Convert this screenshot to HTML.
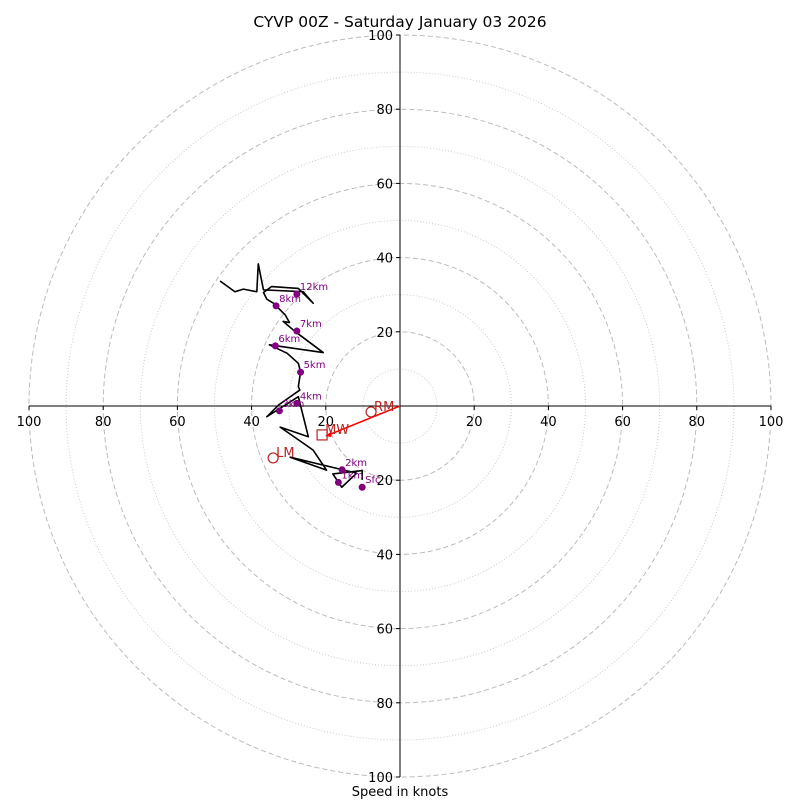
<!DOCTYPE html>
<html><head><meta charset="utf-8"><style>
body{margin:0;background:#fff}
svg text{font-family:"DejaVu Sans","Liberation Sans",sans-serif}
</style></head><body>
<svg id="c" width="800" height="800" viewBox="0 0 800 800">
<rect width="800" height="800" fill="#fff"/>
<text x="400" y="27" font-size="15.5" text-anchor="middle">CYVP 00Z - Saturday January 03 2026</text>
<text x="400" y="796" font-size="13" text-anchor="middle">Speed in knots</text>
<g id="grid"></g><g id="axes"></g><g id="plot"></g>
</svg>
<script>
const ringVals=[10,20,30,40,50,60,70,80,90,100];
const tickVals=[20,40,60,80,100];
const hodoU=[-10.2,-10.2,-18.1,-15.7,-11.7,-29.6,-19.8,-23.4,-32.3,-24.7,-27.4,-35.9,-32.7,-27.0,-27.4,-26.8,-27.4,-30.4,-35.2,-20.7,-28.3,-31.5,-29.8,-30.9,-34.1,-35.9,-36.8,-34.6,-27.4,-23.4,-26.1,-36.8,-38.2,-38.6,-42.2,-44.5,-48.5];
const hodoV=[-19.9,-17.4,-18.3,-21.9,-18.1,-13.8,-17.3,-11.9,-5.7,-8.3,2.5,-2.9,0.3,4.3,5.2,9.2,11.5,14.2,16.5,14.4,20.1,22.8,22.5,24.5,27.7,28.8,30.6,32.2,31.7,27.7,30.8,31.3,38.3,30.8,31.5,30.8,33.7];
const hgtLabels=['Sfc','1km','2km','3km','4km','5km','6km','7km','8km','12km'];
const hgtU=[-10.2,-16.6,-15.6,-32.5,-27.8,-26.8,-33.6,-27.8,-33.4,-27.8];
const hgtV=[-21.9,-20.6,-17.2,-1.3,0.7,9.1,16.2,20.2,27.0,30.2];
const motionNames=['RM','MW','LM'];
const motionU=[-7.8,-21.0,-34.2];
const motionV=[-1.6,-7.8,-14.0];
const cx=400,cy=406,sc=3.71;
const X=u=>cx+u*sc, Y=v=>cy-v*sc;
const NS='http://www.w3.org/2000/svg';
function mk(p,t,a){const e=document.createElementNS(NS,t);for(const k in a)e.setAttribute(k,a[k]);p.appendChild(e);return e;}
const grid=document.getElementById('grid'),axes=document.getElementById('axes'),plot=document.getElementById('plot');
ringVals.forEach(r=>{
 const major=r%20===0;
 const c=mk(grid,'circle',{cx:cx,cy:cy,r:r*sc,fill:'none',stroke:major?'#bbb':'#ccc','stroke-width':1,'stroke-dasharray':major?'5,3':'1,2'});
 
 
});
const h=mk(axes,'line',{x1:X(-100),y1:cy,x2:X(100),y2:cy,stroke:'#000','stroke-width':1});


const v=mk(axes,'line',{x1:cx,y1:Y(100),x2:cx,y2:Y(-100),stroke:'#000','stroke-width':1});


tickVals.forEach(t=>{
 [t,-t].forEach(s=>{
  mk(axes,'line',{x1:X(s),y1:cy,x2:X(s),y2:cy+4,stroke:'#000'});
  const tx=mk(axes,'text',{x:X(s),y:cy+20,'font-size':13,'text-anchor':'middle'});tx.textContent=t;
  
  
  mk(axes,'line',{x1:cx-4,y1:Y(s),x2:cx,y2:Y(s),stroke:'#000'});
  const ty=mk(axes,'text',{x:cx-7,y:Y(s)+5,'font-size':13,'text-anchor':'end'});ty.textContent=t;
  
  
 });
});
const pts=hodoU.map((u,i)=>X(u)+','+Y(hodoV[i])).join(' ');
const pl=mk(plot,'polyline',{points:pts,fill:'none',stroke:'#000','stroke-width':1.6,'stroke-linejoin':'round'});


hgtLabels.forEach((l,i)=>{
 const d=mk(plot,'circle',{cx:X(hgtU[i]),cy:Y(hgtV[i]),r:3.5,fill:'#800080'});
 
 
 const t=mk(plot,'text',{x:X(hgtU[i])+3,y:Y(hgtV[i])-4,'font-size':10,fill:'#800080'});t.textContent=l;
 
 
});
const ar=mk(plot,'line',{x1:cx,y1:cy,x2:X(motionU[1])+4,y2:Y(motionV[1])+1,stroke:'#f00','stroke-width':1.6});


const ax=X(motionU[1])+3,ay=Y(motionV[1])+1;
mk(plot,'polygon',{points:`${ax},${ay} ${ax+7},${ay-5} ${ax+6},${ay+1}`,fill:'#f00'});
motionNames.forEach((n,i)=>{
 const x=X(motionU[i]),y=Y(motionV[i]);
 let m;
 if(n==='MW') m=mk(plot,'rect',{x:x-5,y:y-5,width:10,height:10,fill:'none',stroke:'#b22',"stroke-width":1.2});
 else m=mk(plot,'circle',{cx:x,cy:y,r:5,fill:'none',stroke:'#b22','stroke-width':1.2});
 
 
 const t=mk(plot,'text',{x:x+3,y:y-1,'font-size':13,fill:'#b22'});t.textContent=n;
 
 
});
</script>
</body></html>
